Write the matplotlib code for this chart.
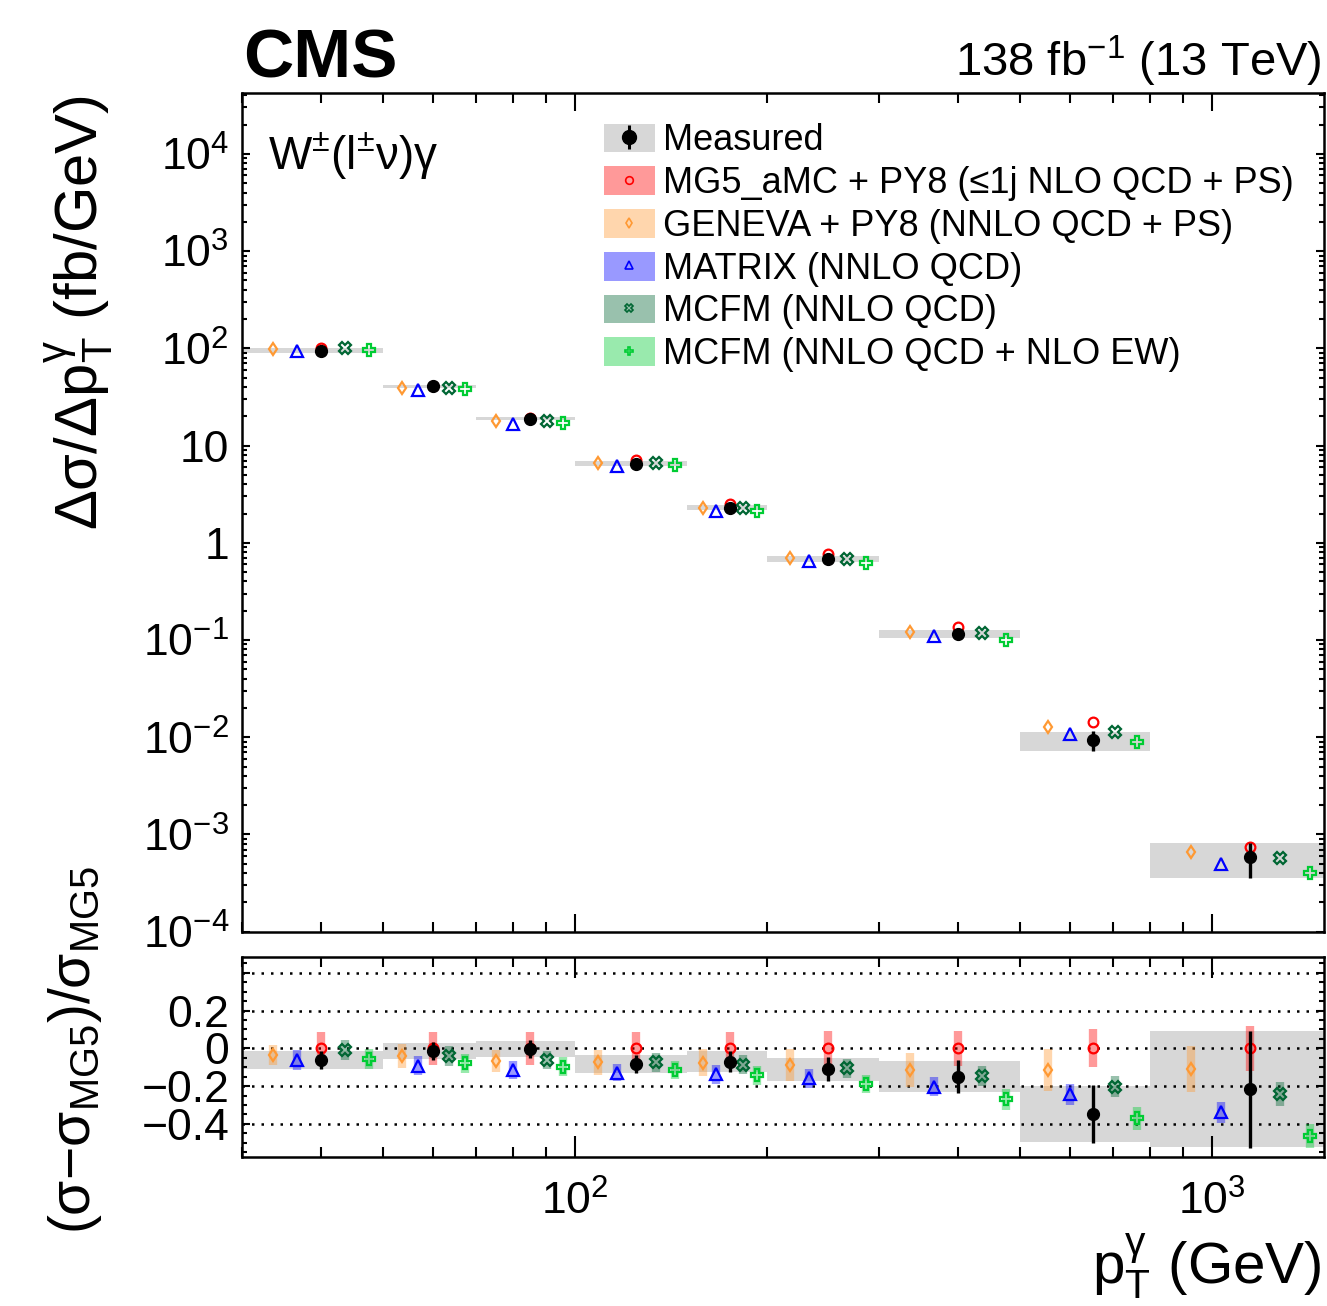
import numpy as np
import matplotlib
matplotlib.use("Agg")
import matplotlib.pyplot as plt
from matplotlib.patches import Patch
from matplotlib.lines import Line2D
from matplotlib.ticker import FixedLocator, FixedFormatter, LogLocator, MultipleLocator, NullFormatter

plt.rcParams['font.family'] = ['Liberation Sans', 'DejaVu Sans']
plt.rcParams['mathtext.fontset'] = 'custom'
plt.rcParams['mathtext.rm'] = 'Liberation Sans'
plt.rcParams['mathtext.it'] = 'Liberation Sans'
plt.rcParams['mathtext.bf'] = 'Liberation Sans:bold'
plt.rcParams['mathtext.sf'] = 'Liberation Sans'
plt.rcParams['mathtext.default'] = 'regular'

# photon pT binning (GeV)
bin_edges = [30, 50, 70, 100, 150, 200, 300, 500, 800, 1500]
bin_centres = [40, 60, 85, 125, 175, 250, 400, 650, 1150]

# MG5_aMC + PY8 reference prediction (fb/GeV) and its relative uncertainty
mg5 = [101, 41.2, 19.0, 7.1, 2.48, 0.768, 0.137, 0.0143, 7.48e-4]
mg5_unc = [0.087, 0.088, 0.088, 0.086, 0.088, 0.090, 0.092, 0.100, 0.120]

# everything below is (sigma - sigma_MG5)/sigma_MG5
meas_rel = [-0.062, -0.014, -0.004, -0.083, -0.071, -0.111, -0.150, -0.348, -0.216]
meas_stat = [0.048, 0.048, 0.048, 0.050, 0.055, 0.063, 0.088, 0.152, 0.310]
meas_tot = [0.048, 0.044, 0.042, 0.049, 0.056, 0.060, 0.084, 0.148, 0.307]

geneva_rel = [-0.035, -0.041, -0.067, -0.074, -0.076, -0.088, -0.115, -0.115, -0.110]
geneva_unc = [0.055, 0.062, 0.060, 0.066, 0.070, 0.083, 0.092, 0.110, 0.120]
matrix_rel = [-0.062, -0.092, -0.115, -0.129, -0.138, -0.159, -0.203, -0.244, -0.339]
matrix_unc = [0.051, 0.050, 0.049, 0.046, 0.049, 0.049, 0.050, 0.055, 0.055]
mcfm_rel = [-0.009, -0.041, -0.062, -0.074, -0.087, -0.106, -0.147, -0.203, -0.242]
mcfm_unc = [0.055, 0.053, 0.050, 0.050, 0.051, 0.050, 0.055, 0.057, 0.064]
mcfmew_rel = [-0.057, -0.080, -0.097, -0.115, -0.143, -0.189, -0.269, -0.371, -0.463]
mcfmew_unc = [0.053, 0.051, 0.049, 0.050, 0.049, 0.050, 0.056, 0.060, 0.064]

OFFSET = 0.17  # horizontal shift of the predictions, fraction of the (log) bin width

edges = np.array(bin_edges, dtype=float)
lo, hi = edges[:-1], edges[1:]
centres = np.array(bin_centres, dtype=float)
logw = np.log10(hi / lo)
ref = np.array(mg5)


def xpos(k):
    return centres * 10 ** (k * OFFSET * logw)


# name, rel, unc, marker, colour, marker size, shift
preds = [
    ("MG5_aMC + PY8 (\u22641j NLO QCD + PS)", [0.0] * 9, mg5_unc, 'o', '#ff0000', 7, 0),
    ("GENEVA + PY8 (NNLO QCD + PS)", geneva_rel, geneva_unc, 'd', '#ff9933', 6.5, -2),
    ("MATRIX (NNLO QCD)", matrix_rel, matrix_unc, '^', '#0000ff', 8, -1),
    ("MCFM (NNLO QCD)", mcfm_rel, mcfm_unc, 'X', '#006633', 8, 1),
    ("MCFM (NNLO QCD + NLO EW)", mcfmew_rel, mcfmew_unc, 'P', '#00cc33', 8, 2),
]
GRAY = '#d7d7d7'

fig = plt.figure(figsize=(13.27, 13.06), dpi=100)
ax = fig.add_axes([0.1821, 0.2866, 0.8156, 0.6420])
rax = fig.add_axes([0.1821, 0.1139, 0.8156, 0.1531])

# ---- upper panel
m_rel = np.array(meas_rel)
meas_abs = ref * (1 + m_rel)
tot_abs = ref * np.array(meas_tot)
ax.bar(lo, 2 * tot_abs, bottom=meas_abs - tot_abs, width=hi - lo, align='edge',
       color=GRAY, lw=0, zorder=1)
for name, rel, unc, mk, col, ms, k in preds:
    ax.plot(xpos(k), ref * (1 + np.array(rel)), ls='none', marker=mk, ms=ms,
            mec=col, mfc='none', mew=1.6, zorder=4)
ax.errorbar(centres, meas_abs, yerr=ref * np.array(meas_stat), fmt='o', color='k',
            ms=8.5, elinewidth=2.4, capsize=0, zorder=5)

ax.set_yscale('log')
ax.set_ylim(1e-4, 4.2e4)
ytk = [1e-4, 1e-3, 1e-2, 1e-1, 1, 10, 1e2, 1e3, 1e4]
ylab = [r'$10^{-4}$', r'$10^{-3}$', r'$10^{-2}$', r'$10^{-1}$', '1', '10',
        r'$10^{2}$', r'$10^{3}$', r'$10^{4}$']
ax.yaxis.set_major_locator(FixedLocator(ytk))
ax.yaxis.set_major_formatter(FixedFormatter(ylab))
ax.yaxis.set_minor_locator(LogLocator(base=10, subs=np.arange(2, 10), numticks=20))
ax.yaxis.set_minor_formatter(NullFormatter())

# ---- ratio panel
rax.bar(lo, 2 * np.array(meas_tot), bottom=m_rel - np.array(meas_tot), width=hi - lo,
        align='edge', color=GRAY, lw=0, zorder=1)
for v in [-0.4, -0.2, 0, 0.2, 0.4]:
    rax.axhline(v, color='k', lw=1.8, ls=(0, (1, 2.8)), zorder=2)
for name, rel, unc, mk, col, ms, k in preds:
    rax.errorbar(xpos(k), rel, yerr=unc, fmt='none', ecolor=col, elinewidth=6,
                 alpha=0.4, capsize=0, zorder=3)
    rax.plot(xpos(k), rel, ls='none', marker=mk, ms=ms, mec=col, mfc='none',
             mew=1.6, zorder=4)
rax.errorbar(centres, m_rel, yerr=meas_stat, fmt='o', color='k', ms=8.5,
             elinewidth=2.4, capsize=0, zorder=5)

rax.set_ylim(-0.577, 0.482)
rax.yaxis.set_major_locator(FixedLocator([-0.4, -0.2, 0, 0.2, 0.4]))
rax.yaxis.set_major_formatter(FixedFormatter(['\u22120.4', '\u22120.2', '0', '0.2', '']))
rax.yaxis.set_minor_locator(MultipleLocator(0.05))

for a in (ax, rax):
    a.set_xscale('log')
    a.set_xlim(30, 1500)
    a.xaxis.set_major_locator(FixedLocator([100, 1000]))
    a.xaxis.set_minor_locator(LogLocator(base=10, subs=np.arange(2, 10), numticks=20))
    a.xaxis.set_minor_formatter(NullFormatter())
    a.tick_params(which='both', direction='in', top=True, right=True, width=1.5,
                  labelsize=32)
    a.tick_params(axis='y', which='major', length=6, pad=9)
    a.tick_params(axis='y', which='minor', length=3.5)
    for s in a.spines.values():
        s.set_linewidth(1.8)

ax.tick_params(axis='x', which='major', length=13, labelbottom=False)
ax.tick_params(axis='x', which='minor', length=7)
rax.tick_params(axis='x', which='major', length=15, pad=17)
rax.tick_params(axis='x', which='minor', length=7.5)
rax.xaxis.set_major_formatter(FixedFormatter([r'$10^{2}$', r'$10^{3}$']))

# ---- legend
handles = [(Patch(fc=GRAY, ec='none'),
            Line2D([], [], color='k', marker='|', ms=17, mew=2.2, ls='none'),
            Line2D([], [], color='k', marker='o', ms=10, ls='none'))]
labels = ['Measured']
for name, rel, unc, mk, col, ms, k in preds:
    handles.append((Patch(fc=col, alpha=0.4, ec='none'),
                    Line2D([], [], marker=mk, ms=5.5, mec=col, mfc='none', mew=1.2, ls='none')))
    labels.append(name)
ax.legend(handles, labels, loc='upper left', bbox_to_anchor=(0.3348, 0.964),
          frameon=False, fontsize=26, handlelength=1.41, handleheight=0.85,
          handletextpad=0.22, labelspacing=0.215, borderpad=0, borderaxespad=0)

# ---- texts
fig.text(243 / 1327, 1 - 78 / 1306, 'CMS', fontsize=50, fontweight='bold', va='baseline')
fig.text(1322 / 1327, 1 - 76 / 1306, r'138 fb$^{-1}$ (13 TeV)', fontsize=34,
         ha='right', va='baseline')
fig.text(268 / 1327, 1 - 170 / 1306, r'W$^{\pm}$(l$^{\pm}\nu$)$\gamma$', fontsize=33,
         va='baseline')
fig.text(80 / 1327, 1 - 95 / 1306, r'$\Delta\sigma/\Delta p_{T}^{\gamma}$ (fb/GeV)',
         fontsize=43, rotation=90, ha='center', va='top')
fig.text(75 / 1327, 1 - 1050 / 1306, r'$(\sigma{-}\sigma_{MG5})/\sigma_{MG5}$',
         fontsize=41, rotation=90, ha='center', va='center')
fig.text(1322 / 1327, 1 - 1302 / 1306, r'$p_{T}^{\gamma}$ (GeV)', fontsize=42,
         ha='right', va='bottom')

fig.savefig('out.png', dpi=100)
